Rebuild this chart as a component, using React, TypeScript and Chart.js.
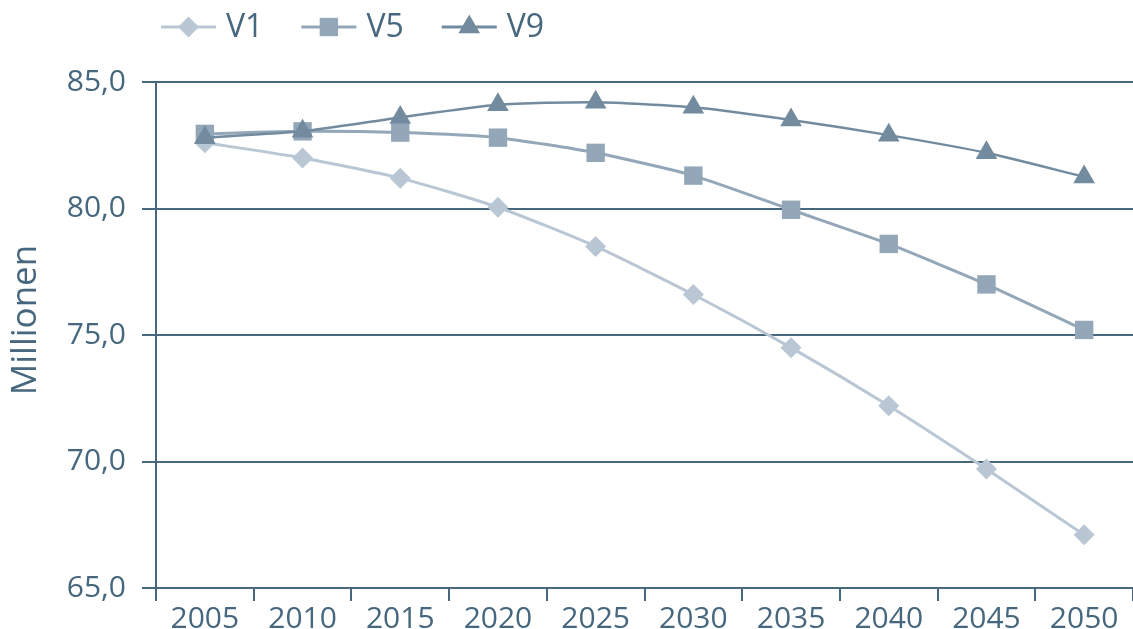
import React, { useEffect, useRef } from 'react';
import { Chart, registerables } from 'chart.js';

Chart.register(...registerables);

// ---- data ----
const years = ['2005', '2010', '2015', '2020', '2025', '2030', '2035', '2040', '2045', '2050'];
const seriesLabels = ['V1', 'V5', 'V9'];
const v1 = [82.6, 82.0, 81.2, 80.05, 78.5, 76.6, 74.5, 72.2, 69.7, 67.1];
const v5 = [82.95, 83.05, 83.0, 82.8, 82.2, 81.3, 79.95, 78.6, 77.0, 75.2];
const v9 = [82.8, 83.05, 83.6, 84.1, 84.2, 84.0, 83.5, 82.9, 82.2, 81.25];
const yMin = 65;
const yMax = 85;
const yStep = 5;
const yTitle = 'Millionen';

// ---- styles ----
const AXIS = '#46677d';
const TEXT = '#46677d';
const FONT = "'Open Sans', 'DejaVu Sans', sans-serif";
const COLORS = ['#b9c7d4', '#93a7b8', '#728b9e'];
const STYLES = ['rectRot', 'rect', 'triangle'];
const RADII = [10.5, 13, 12.5];

function drawMarker(ctx: CanvasRenderingContext2D, style: string, x: number, y: number, r: number) {
  ctx.beginPath();
  if (style === 'rectRot') {
    ctx.moveTo(x - r, y);
    ctx.lineTo(x, y - r);
    ctx.lineTo(x + r, y);
    ctx.lineTo(x, y + r);
  } else if (style === 'rect') {
    const s = r * Math.SQRT1_2;
    ctx.rect(x - s, y - s, 2 * s, 2 * s);
  } else {
    ctx.moveTo(x, y - r);
    ctx.lineTo(x + Math.sin((2 * Math.PI) / 3) * r, y + r / 2);
    ctx.lineTo(x - Math.sin((2 * Math.PI) / 3) * r, y + r / 2);
  }
  ctx.closePath();
  ctx.fill();
}

const legendPlugin = {
  id: 'customLegend',
  afterDraw(chart: any) {
    const ctx: CanvasRenderingContext2D = chart.ctx;
    ctx.save();
    ctx.font = `32px ${FONT}`;
    ctx.textBaseline = 'middle';
    ctx.textAlign = 'left';
    let x = 161;
    const y = 27;
    chart.data.datasets.forEach((ds: any) => {
      const len = 55;
      ctx.strokeStyle = ds.borderColor;
      ctx.lineWidth = 3;
      ctx.beginPath();
      ctx.moveTo(x, y);
      ctx.lineTo(x + len, y);
      ctx.stroke();
      ctx.fillStyle = ds.pointBackgroundColor;
      drawMarker(ctx, ds.pointStyle, x + len / 2, y, ds.pointRadius);
      ctx.fillStyle = TEXT;
      const tx = x + len + 10;
      ctx.fillText(ds.label, tx, y + 1);
      const w = ctx.measureText(ds.label).width;
      x = tx + w + 38;
    });
    // rotated axis title
    const area = chart.chartArea;
    ctx.save();
    ctx.translate(26, (area.top + area.bottom) / 2 - 15);
    ctx.rotate(-Math.PI / 2);
    ctx.font = `35px ${FONT}`;
    ctx.textAlign = 'center';
    ctx.textBaseline = 'middle';
    ctx.fillStyle = TEXT;
    ctx.fillText(yTitle, 0, 0);
    ctx.restore();
    ctx.restore();
  },
};

export default function App() {
  const ref = useRef<HTMLCanvasElement | null>(null);

  useEffect(() => {
    if (!ref.current) return;
    const seriesValues = [v1, v5, v9];
    const chart = new Chart(ref.current, {
      type: 'line',
      data: {
        labels: years,
        datasets: seriesValues.map((vals, i) => ({
          label: seriesLabels[i],
          data: vals,
          borderColor: COLORS[i],
          backgroundColor: COLORS[i],
          pointBackgroundColor: COLORS[i],
          pointBorderColor: COLORS[i],
          pointBorderWidth: 0,
          pointStyle: STYLES[i],
          pointRadius: RADII[i],
          pointHoverRadius: RADII[i],
          borderWidth: i === 2 ? 2.5 : 3,
          tension: 0.2,
          fill: false,
          clip: false,
          order: 2 - i,
        })),
      },
      options: {
        animation: false,
        responsive: false,
        maintainAspectRatio: false,
        devicePixelRatio: 1,
        layout: { autoPadding: false, padding: { top: 82, left: 0, right: 0, bottom: 0 } },
        plugins: {
          legend: { display: false },
          tooltip: { enabled: false },
          title: { display: false },
        },
        scales: {
          x: {
            type: 'category',
            offset: true,
            grid: {
              offset: true,
              drawOnChartArea: false,
              drawTicks: true,
              tickLength: 13,
              color: AXIS,
              lineWidth: 2,
            },
            border: { display: true, color: AXIS, width: 2 },
            ticks: {
              color: TEXT,
              font: { family: FONT, size: 30, lineHeight: '26px' },
              padding: 5,
              maxRotation: 0,
              autoSkip: false,
            },
            afterFit: (scale: any) => {
              scale.height = 41;
              scale.paddingLeft = 0;
              scale.paddingRight = 0;
            },
          },
          y: {
            min: yMin,
            max: yMax,
            grid: {
              drawOnChartArea: true,
              drawTicks: true,
              tickLength: 14,
              color: AXIS,
              lineWidth: 2,
            },
            border: { display: true, color: AXIS, width: 2 },
            ticks: {
              stepSize: yStep,
              color: TEXT,
              font: { family: FONT, size: 30 },
              padding: 16,
              callback: (v: any) => Number(v).toFixed(1).replace('.', ','),
            },
            afterFit: (scale: any) => {
              scale.width = 156;
            },
          },
        },
      },
      plugins: [legendPlugin],
    });
    return () => chart.destroy();
  }, []);

  return (
    <div style={{ position: 'fixed', left: 0, top: 0, width: 1133, height: 629, background: '#ffffff' }}>
      <canvas ref={ref} width={1133} height={629} style={{ display: 'block', width: 1133, height: 629 }} />
    </div>
  );
}
